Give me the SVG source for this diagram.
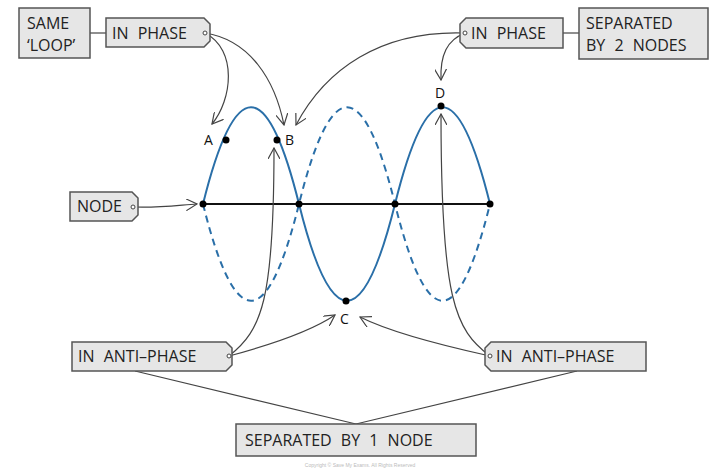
<svg xmlns="http://www.w3.org/2000/svg" width="720" height="472" viewBox="0 0 720 472">
<defs>
<style>
.box{fill:#e6e6e6;stroke:#555;stroke-width:1.5}
.t{font-family:"Open Sans","Liberation Sans",sans-serif;font-size:16px;fill:#222;word-spacing:5px}
.lbl{font-family:"Open Sans","Liberation Sans",sans-serif;font-size:14px;fill:#111}
.con{fill:none;stroke:#444;stroke-width:1.2}
.ring{fill:#fff;stroke:#444;stroke-width:1}
.wave{fill:none;stroke:#2a6fa8;stroke-width:2}
.dash{stroke-dasharray:7 5}
.pt{fill:#000}
</style>
<marker id="ar" viewBox="0 0 12 12" refX="11" refY="6" markerWidth="12" markerHeight="12" markerUnits="userSpaceOnUse" orient="auto">
<path d="M0,0 L11,6 L0,12" fill="none" stroke="#444" stroke-width="1.2"/>
</marker>
</defs>
<rect width="720" height="472" fill="#fff"/>
<g id="waves">
<path class="wave" d="M203,204 C235,75 267,75 299,204 C331,333 363,333 395,204 C427,75 458,75 490,204"/>
<path class="wave dash" d="M203,204 C235,333 267,333 299,204 C331,75 363,75 395,204 C427,333 458,333 490,204"/>
<line x1="203" y1="204" x2="490" y2="204" stroke="#111" stroke-width="2"/>
<circle class="pt" cx="203" cy="204" r="3.5"/><circle class="pt" cx="299" cy="204" r="3.5"/>
<circle class="pt" cx="395" cy="204" r="3.5"/><circle class="pt" cx="490" cy="204" r="3.5"/>
</g>
<g id="points">
<circle class="pt" cx="226" cy="140" r="3.5"/><text class="lbl" x="204" y="145">A</text>
<circle class="pt" cx="277" cy="140" r="3.5"/><text class="lbl" x="285" y="145">B</text>
<circle class="pt" cx="346" cy="301" r="3.5"/><text class="lbl" x="340" y="324">C</text>
<circle class="pt" cx="441" cy="106" r="3.5"/><text class="lbl" x="435" y="98">D</text>
</g>
<g id="connectors">
<line class="con" x1="90" y1="33" x2="106" y2="33"/>
<line class="con" x1="563" y1="33" x2="579" y2="33"/>
<path class="con" marker-end="url(#ar)" d="M205,33 C238,50 232,100 212,124"/>
<path class="con" marker-end="url(#ar)" d="M205,33 C250,40 275,80 284,125"/>
<path class="con" marker-end="url(#ar)" d="M465,33 C380,30 325,70 296,125"/>
<path class="con" marker-end="url(#ar)" d="M465,33 C447,40 440,55 441,80"/>
<path class="con" marker-end="url(#ar)" d="M133,207 C160,208 180,205 197,204"/>
<path class="con" marker-end="url(#ar)" d="M229,356 C262,330 274,300 274,148"/>
<path class="con" marker-end="url(#ar)" d="M229,356 C270,345 310,332 335,315"/>
<path class="con" marker-end="url(#ar)" d="M490,356 C440,345 390,332 360,317"/>
<path class="con" marker-end="url(#ar)" d="M490,356 C455,330 441,300 441,114"/>
<line class="con" x1="135" y1="371" x2="356" y2="424"/>
<line class="con" x1="577" y1="371" x2="356" y2="424"/>
</g>
<g id="same-loop"><rect class="box" x="19" y="8" width="71" height="50"/>
<text class="t" x="27" y="29">SAME</text><text class="t" x="27" y="51">‘LOOP’</text></g>
<g id="in-phase-left"><path class="box" d="M106,18 H204 L210,24 V41 L204,47 H106 Z"/>
<text class="t" x="112" y="39">IN PHASE</text><circle class="ring" cx="205" cy="33" r="2"/></g>
<g id="in-phase-right"><path class="box" d="M466,18 H563 V48 H466 L460,42 V24 Z"/>
<text class="t" x="471" y="39">IN PHASE</text><circle class="ring" cx="465" cy="33" r="2"/></g>
<g id="sep2"><rect class="box" x="579" y="8" width="129" height="51"/>
<text class="t" x="586" y="29">SEPARATED</text><text class="t" x="586" y="51">BY 2 NODES</text></g>
<g id="node-tag"><path class="box" d="M70,192 H132 L138,198 V215 L132,221 H70 Z"/>
<text class="t" x="77" y="212">NODE</text><circle class="ring" cx="133" cy="207" r="2"/></g>
<g id="anti-left"><path class="box" d="M72,342 H226 L232,348 V365 L226,371 H72 Z"/>
<text class="t" x="78" y="362">IN ANTI–PHASE</text><circle class="ring" cx="229" cy="356" r="2"/></g>
<g id="anti-right"><path class="box" d="M491,342 H646 V371 H491 L485,365 V348 Z"/>
<text class="t" x="496" y="362">IN ANTI–PHASE</text><circle class="ring" cx="490" cy="356" r="2"/></g>
<g id="sep1"><rect class="box" x="236" y="424" width="240" height="32"/>
<text class="t" x="245" y="446">SEPARATED BY 1 NODE</text></g>
<text x="360" y="467" text-anchor="middle" font-family="Liberation Sans,sans-serif" font-size="5" fill="#bbb">Copyright © Save My Exams. All Rights Reserved</text>
</svg>
